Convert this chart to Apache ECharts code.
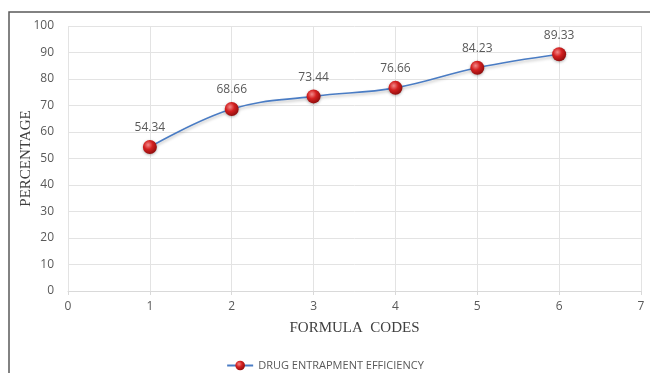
<!DOCTYPE html>
<html><head><meta charset="utf-8">
<script src="https://cdn.jsdelivr.net/npm/echarts@6/dist/echarts.min.js"></script>
<style>html,body{margin:0;padding:0;background:#fff}#c{width:650px;height:373px}</style>
</head><body><div id="c"></div>
<script>
const formulaCodes = [1, 2, 3, 4, 5, 6];
const efficiency = [54.34, 68.66, 73.44, 76.66, 84.23, 89.33];
const seriesName = 'DRUG ENTRAPMENT EFFICIENCY';

const chart = echarts.init(document.getElementById('c'));
const ball = {
  type: 'radial', x: 0.38, y: 0.35, r: 0.7,
  colorStops: [{offset: 0, color: '#f28a8a'}, {offset: 0.45, color: '#d42020'}, {offset: 1, color: '#8a0c0c'}]
};
chart.setOption({
  animation: false,
  grid: {left: 68, right: 9, top: 26, bottom: 82},
  graphic: [{
    type: 'polyline', shape: {points: [[9, 373], [9, 12], [650, 12]]},
    style: {stroke: '#5a5a5a', lineWidth: 1.5, fill: null}
  }],
  xAxis: {
    type: 'value', min: 0, max: 7, interval: 1,
    name: 'FORMULA  CODES', nameLocation: 'middle', nameGap: 30,
    nameTextStyle: {fontFamily: 'Liberation Serif', fontSize: 15, color: '#404040'},
    axisLine: {show: true, lineStyle: {color: '#d9d9d9'}},
    axisTick: {show: true, length: 4, lineStyle: {color: '#d9d9d9'}},
    axisLabel: {color: '#595959', fontSize: 12, fontFamily: 'Open Sans', margin: 10},
    splitLine: {show: true, lineStyle: {color: '#e3e3e3'}}
  },
  yAxis: {
    type: 'value', min: 0, max: 100, interval: 10,
    name: 'PERCENTAGE', nameLocation: 'middle', nameGap: 34, nameMoveOverlap: false,
    nameTextStyle: {fontFamily: 'Liberation Serif', fontSize: 15, color: '#404040'},
    axisLine: {show: false}, axisTick: {show: false},
    axisLabel: {color: '#595959', fontSize: 12, fontFamily: 'Open Sans', margin: 14},
    splitLine: {show: true, lineStyle: {color: '#e3e3e3'}}
  },
  legend: {
    bottom: -3, left: 'center', itemWidth: 26, itemHeight: 12, itemGap: 10,
    textStyle: {color: '#595959', fontSize: 11, fontFamily: 'Open Sans'},
    data: [seriesName]
  },
  series: [{
    name: seriesName, type: 'line', smooth: 0.4,
    data: formulaCodes.map((x, i) => [x, efficiency[i]]),
    symbol: 'circle', symbolSize: 14,
    lineStyle: {color: '#4a7cc4', width: 1.6, shadowColor: 'rgba(0,0,0,0.25)', shadowBlur: 3, shadowOffsetY: 2},
    itemStyle: {color: ball, borderWidth: 0, shadowColor: 'rgba(0,0,0,0.3)', shadowBlur: 3, shadowOffsetY: 1},
    label: {show: true, position: 'top', distance: 6, color: '#595959', fontSize: 12, fontFamily: 'Open Sans',
      formatter: p => p.value[1].toFixed(2)}
  }]
});
</script></body></html>
